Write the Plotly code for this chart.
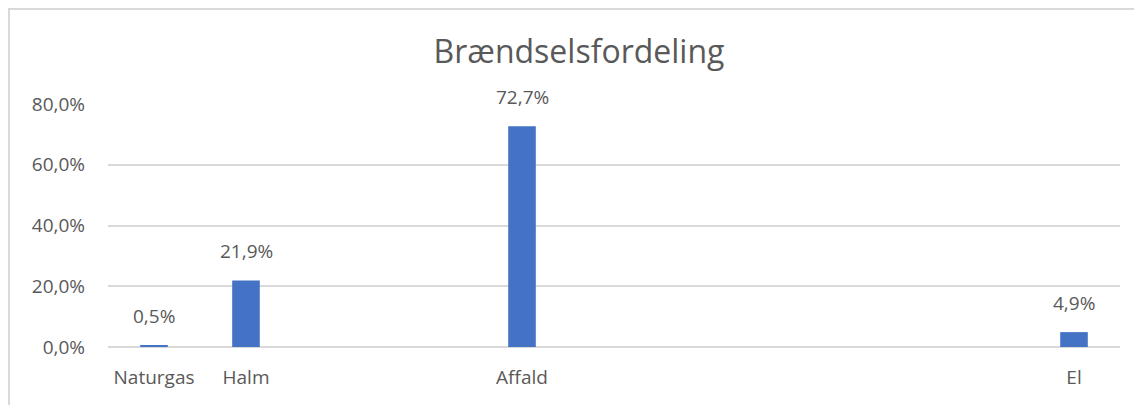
import plotly.graph_objects as go

categories = ["Naturgas", "Halm", " ", "  ", "Affald", "   ", "    ", "     ", "      ", "       ", "El"]
values = [0.005, 0.219, None, None, 0.727, None, None, None, None, None, 0.049]
title = "Brændselsfordeling"
y_ticks = [0, 0.2, 0.4, 0.6, 0.8]

FONT = "Open Sans"
GREY = "#595959"
GRID = "#D9D9D9"
BAR = "#4472C4"

OFF = 8  # page body margin
W, H = 1142 - OFF, 405 - OFF
ML, MR, MT, MB = 108 - OFF, 22, 104 - OFF, 58
PW, PH = W - ML - MR, H - MT - MB

fig = go.Figure()
fig.add_trace(go.Bar(
    x=categories, y=values, width=0.3,
    marker=dict(color=BAR, line=dict(width=0)),
    hoverinfo="skip",
))

for c, v in zip(categories, values):
    if v is None:
        continue
    fig.add_annotation(
        x=c, y=v, text=f"{v*100:.1f}%".replace(".", ","),
        showarrow=False, yanchor="bottom", yshift=14,
        font=dict(family=FONT, size=19, color=GREY),
    )

# outer chart border (visible left and top edges), 1px inside the figure edge
fig.add_shape(
    type="rect", xref="paper", yref="paper",
    x0=(1 - ML) / PW, x1=(W + 20 - ML) / PW,
    y0=-(H + 20 - MT - PH) / PH, y1=1 + (MT - 1) / PH,
    line=dict(color=GRID, width=2), fillcolor="rgba(0,0,0,0)", layer="below",
)

fig.update_layout(
    width=W, height=H,
    margin=dict(l=ML, r=MR, t=MT, b=MB),
    paper_bgcolor="white", plot_bgcolor="white",
    separators=",.",
    showlegend=False,
    title=dict(text=title, x=(579 - OFF) / W, xanchor="center", y=1 - (52 - OFF) / H, yanchor="middle",
               font=dict(family=FONT, size=32, color=GREY)),
    font=dict(family=FONT, color=GREY),
    xaxis=dict(
        type="category", categoryorder="array", categoryarray=categories,
        range=[-0.5, len(categories) - 0.5],
        showgrid=False, showline=False, zeroline=False, ticks="",
        tickfont=dict(family=FONT, size=19, color=GREY),
        ticklabelstandoff=17,
    ),
    yaxis=dict(
        range=[0, 0.8], tickvals=y_ticks, tickformat=".1%",
        showgrid=True, gridcolor=GRID, gridwidth=1.5,
        zeroline=True, zerolinecolor=GRID, zerolinewidth=1.5,
        showline=False, ticks="",
        tickfont=dict(family=FONT, size=19, color=GREY),
        ticklabelstandoff=22,
    ),
)

fig.write_html("out.html")
